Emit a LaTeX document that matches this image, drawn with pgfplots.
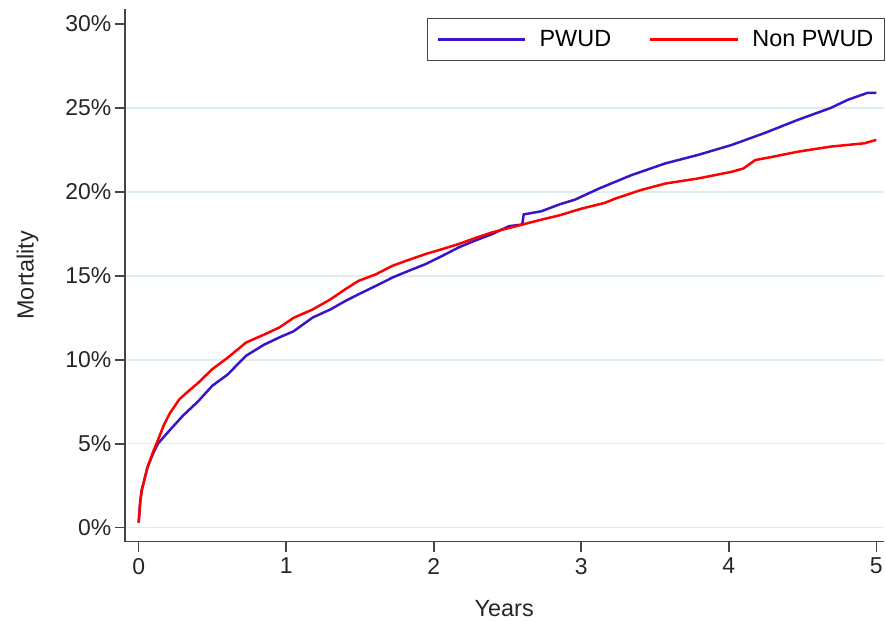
\documentclass[border=0pt]{standalone}
\usepackage{fontspec}
\setmainfont{Liberation Sans}
\usepackage{pgfplots}
\pgfplotsset{compat=1.18}
\definecolor{pwud}{RGB}{60,20,200}
\definecolor{nonpwud}{RGB}{255,0,0}
\definecolor{gridc}{RGB}{222,238,240}
\definecolor{axc}{RGB}{70,70,70}
\begin{document}
\begin{tikzpicture}
\begin{axis}[
  scale only axis,
  width=761pt, height=534pt,
  xmin=-0.095, xmax=5.05,
  ymin=-0.83, ymax=30.9,
  axis x line*=bottom, axis y line*=left,
  axis line style={-, axc, line width=1.8pt},
  tick style={axc, line width=1.6pt},
  major tick length=10pt,
  tick align=outside,
  xtick={0,1,2,3,4,5},
  ytick={0,5,10,15,20,25},
  extra y ticks={30},
  extra y tick style={grid=none},
  ymajorgrids,
  grid style={gridc, line width=1.5pt},
  yticklabel={\pgfmathprintnumber{\tick}\%},
  /pgf/number format/assume math mode=true,
  ticklabel style={font=\fontsize{23}{27}\selectfont, text=black!85},
  xticklabel style={yshift=-3pt},
  label style={font=\fontsize{23.5}{27}\selectfont, text=black!85},
  xlabel={Years}, ylabel={Mortality},
  xlabel style={yshift=-19pt},
  ylabel style={yshift=0pt},
  legend columns=2,
  legend style={at={(1,1)}, anchor=north east, xshift=1.5pt, yshift=-9pt,
    draw=axc, line width=1.5pt, font=\fontsize{23.5}{27}\selectfont,
    inner xsep=9pt, inner ysep=10pt,
    /tikz/every odd column/.append style={column sep=11pt},
    /tikz/every even column/.append style={column sep=36pt}},
  legend image code/.code={\draw[#1, line width=2.5pt] (0pt,0pt) -- (88pt,0pt);},
]
\addplot[pwud, line width=2.5pt] coordinates {
(0,0.3) (0.01,1.5) (0.02,2.2) (0.04,2.9) (0.06,3.6) (0.097,4.4) (0.13,5.0)
(0.17,5.4) (0.21,5.8) (0.30,6.67) (0.4,7.5) (0.5,8.46) (0.6,9.1) (0.728,10.24)
(0.85,10.9) (0.953,11.33) (1.05,11.7) (1.18,12.52) (1.3,13.0) (1.40,13.5)
(1.49,13.9) (1.63,14.5) (1.72,14.9) (1.83,15.3) (1.945,15.7) (2.06,16.2)
(2.17,16.7) (2.28,17.1) (2.40,17.5) (2.51,17.96) (2.60,18.06) (2.61,18.66)
(2.73,18.85) (2.85,19.25) (2.96,19.55) (3.12,20.2) (3.34,21.0) (3.57,21.7)
(3.79,22.2) (4.02,22.8) (4.24,23.5) (4.47,24.3) (4.69,25.0) (4.81,25.5)
(4.94,25.9) (5.0,25.9)
};
\addlegendentry{PWUD}
\addplot[nonpwud, line width=2.5pt] coordinates {
(0,0.3) (0.01,1.5) (0.02,2.2) (0.04,2.9) (0.06,3.6) (0.097,4.5) (0.13,5.2)
(0.17,6.1) (0.21,6.8) (0.277,7.66) (0.32,8.0) (0.4,8.6) (0.5,9.45) (0.6,10.1)
(0.728,11.03) (0.85,11.5) (0.953,11.92) (1.05,12.5) (1.18,13.0) (1.3,13.6)
(1.40,14.2) (1.49,14.7) (1.61,15.1) (1.72,15.6) (1.83,15.95) (1.945,16.3)
(2.06,16.6) (2.17,16.9) (2.28,17.25) (2.40,17.6) (2.51,17.85) (2.62,18.1)
(2.73,18.35) (2.85,18.6) (3.0,19.0) (3.16,19.35) (3.23,19.6) (3.4,20.1)
(3.57,20.5) (3.79,20.8) (4.02,21.2) (4.1,21.4) (4.18,21.9) (4.3,22.1)
(4.47,22.4) (4.69,22.7) (4.92,22.9) (5.0,23.1)
};
\addlegendentry{Non PWUD}
\end{axis}
\path ([xshift=-125pt,yshift=-79pt]current axis.south west) rectangle ([yshift=9pt]current axis.north east);
\end{tikzpicture}
\end{document}
